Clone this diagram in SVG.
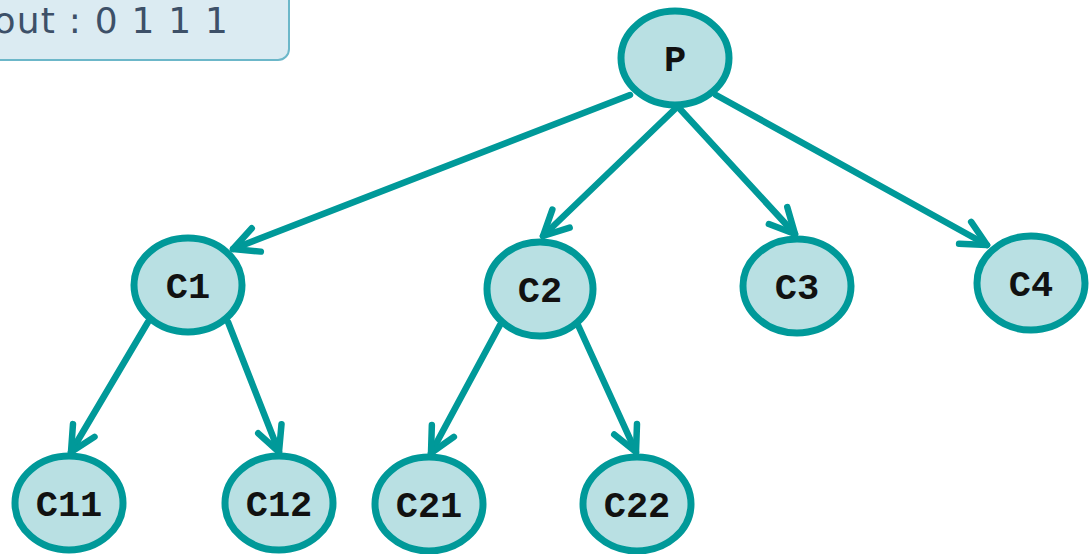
<svg xmlns="http://www.w3.org/2000/svg" width="1089" height="554" viewBox="0 0 1089 554">
  <defs>
    <style>
      .node ellipse { fill: #b9e0e3; stroke: #009999; stroke-width: 7; }
      .node text { font-family: "Liberation Mono", "Courier New", monospace; font-weight: bold; font-size: 37px; fill: #111; text-anchor: middle; }
      .edge { stroke: #009999; stroke-width: 6.5; stroke-linecap: round; fill: none; marker-end: url(#chevron); }
      .banner rect { fill: #dbebf2; stroke: #6cb7c9; stroke-width: 2; }
      .banner text { font-family: "DejaVu Sans", Verdana, sans-serif; font-size: 36px; letter-spacing: 1.2px; fill: #3d5068; text-anchor: end; }
    </style>
    <marker id="chevron" markerUnits="userSpaceOnUse" orient="auto" refX="0" refY="0" markerWidth="40" markerHeight="40" overflow="visible">
      <path d="M -25 -12.5 L 0 0 L -25 12.5" fill="none" stroke="#009999" stroke-width="6.5" stroke-linecap="round" stroke-linejoin="round"/>
    </marker>
  </defs>

  <rect width="1089" height="554" fill="#ffffff"/>

  <!-- output banner -->
  <g id="output" class="banner">
    <rect x="-20" y="-20" width="309" height="80" rx="11"/>
    <text x="229" y="33">out : 0 1 1 1</text>
  </g>

  <!-- connectors -->
  <g id="edges">
    <line class="edge" x1="630" y1="95" x2="233" y2="249"/>
    <line class="edge" x1="675" y1="109" x2="543" y2="236"/>
    <line class="edge" x1="680" y1="109" x2="795" y2="234"/>
    <line class="edge" x1="716" y1="95" x2="987" y2="245"/>
    <line class="edge" x1="148" y1="322" x2="71" y2="452"/>
    <line class="edge" x1="228" y1="322" x2="279" y2="452"/>
    <line class="edge" x1="500" y1="325" x2="431" y2="453"/>
    <line class="edge" x1="578" y1="325" x2="636" y2="452"/>
  </g>

  <!-- nodes -->
  <g id="P" class="node">
    <ellipse cx="675" cy="58" rx="54" ry="47"/>
    <text x="675" y="71">P</text>
  </g>
  <g id="C1" class="node">
    <ellipse cx="188" cy="285" rx="54" ry="47"/>
    <text x="188" y="298">C1</text>
  </g>
  <g id="C2" class="node">
    <ellipse cx="540" cy="289" rx="53" ry="47"/>
    <text x="540" y="302">C2</text>
  </g>
  <g id="C3" class="node">
    <ellipse cx="797" cy="286" rx="54" ry="47"/>
    <text x="797" y="299">C3</text>
  </g>
  <g id="C4" class="node">
    <ellipse cx="1031" cy="283" rx="54" ry="47"/>
    <text x="1031" y="296">C4</text>
  </g>
  <g id="C11" class="node">
    <ellipse cx="69" cy="503" rx="54" ry="47"/>
    <text x="69" y="516">C11</text>
  </g>
  <g id="C12" class="node">
    <ellipse cx="279" cy="503" rx="54" ry="47"/>
    <text x="279" y="516">C12</text>
  </g>
  <g id="C21" class="node">
    <ellipse cx="429" cy="504" rx="54" ry="47"/>
    <text x="429" y="517">C21</text>
  </g>
  <g id="C22" class="node">
    <ellipse cx="637" cy="504" rx="54" ry="47"/>
    <text x="637" y="517">C22</text>
  </g>
</svg>
